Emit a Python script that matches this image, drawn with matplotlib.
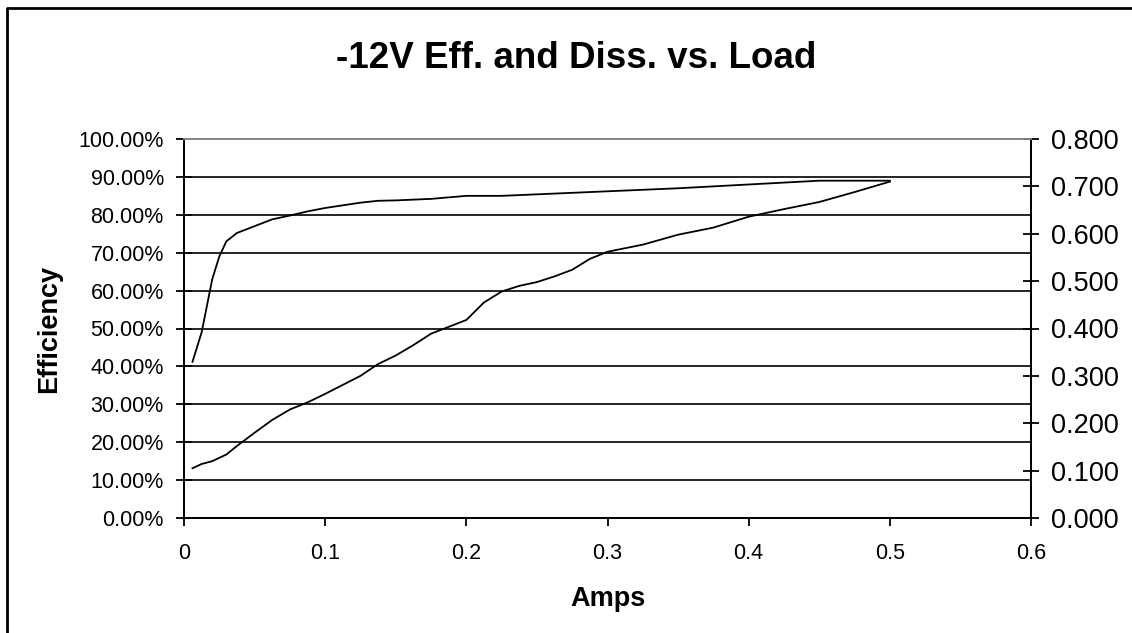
import matplotlib.pyplot as plt
from matplotlib.lines import Line2D
from matplotlib.ticker import FuncFormatter, MultipleLocator

plt.rcParams['font.family'] = ['Liberation Sans', 'DejaVu Sans']

# Load current (A)
amps = [0.006, 0.0125, 0.02, 0.025, 0.03, 0.0375, 0.05, 0.0625, 0.075, 0.0875,
        0.1, 0.1125, 0.125, 0.1375, 0.15, 0.1625, 0.175, 0.2, 0.2125, 0.225,
        0.2375, 0.25, 0.2625, 0.275, 0.2875, 0.3, 0.325, 0.35, 0.375, 0.4,
        0.425, 0.45, 0.475, 0.5]
# Efficiency (%)
efficiency = [41.2, 49.0, 63.0, 69.0, 73.0, 75.2, 77.0, 78.8, 79.8, 80.9,
              81.8, 82.5, 83.2, 83.7, 83.8, 84.0, 84.2, 85.0, 85.0, 85.0,
              85.2, 85.4, 85.6, 85.8, 86.0, 86.2, 86.6, 87.0, 87.5, 88.0,
              88.5, 89.0, 89.0, 89.0]
# Dissipation (W)
dissipation = [0.105, 0.114, 0.120, 0.127, 0.134, 0.152, 0.180, 0.207, 0.229, 0.244,
               0.262, 0.281, 0.300, 0.325, 0.343, 0.365, 0.389, 0.418, 0.455, 0.478,
               0.490, 0.498, 0.510, 0.524, 0.547, 0.562, 0.577, 0.598, 0.613, 0.636,
               0.652, 0.667, 0.688, 0.710]

fig = plt.figure(figsize=(11.32, 6.33), dpi=100)
ax = fig.add_axes([184 / 1132, 1 - 518 / 633, (1031 - 184) / 1132, (518 - 139) / 633])
ax2 = ax.twinx()

ax.plot(amps, efficiency, color='black', lw=1.3)
ax2.plot(amps, dissipation, color='black', lw=1.3)

ax.set_xlim(0, 0.6)
ax.set_ylim(0, 100)
ax2.set_ylim(0, 0.8)
ax.xaxis.set_major_locator(MultipleLocator(0.1))
ax.yaxis.set_major_locator(MultipleLocator(10))
ax2.yaxis.set_major_locator(MultipleLocator(0.1))
ax.xaxis.set_major_formatter(FuncFormatter(lambda v, p: f'{v:g}'))
ax.yaxis.set_major_formatter(FuncFormatter(lambda v, p: f'{v:.2f}%'))
ax2.yaxis.set_major_formatter(FuncFormatter(lambda v, p: f'{v:.3f}'))

ax.grid(axis='y', color='black', lw=1.2)
ax.set_axisbelow(True)

for a in (ax, ax2):
    for s in a.spines.values():
        s.set_linewidth(1.3)
    a.spines['top'].set_color('#888888')
ax.tick_params(axis='y', direction='inout', length=11, width=1.3, labelsize=15.5, pad=9)
ax.tick_params(axis='x', direction='out', length=6, width=1.3, labelsize=15.5, pad=12)
ax2.tick_params(axis='y', direction='inout', length=11, width=1.3, labelsize=19.5, pad=9)

ax.set_xlabel('Amps', fontsize=19.5, fontweight='bold', labelpad=16)
ax.set_ylabel('Efficiency', fontsize=19.5, fontweight='bold', labelpad=12)
fig.text(0.509, 1 - 58 / 633, '-12V Eff. and Diss. vs. Load', ha='center', va='center',
         fontsize=26.5, fontweight='bold')

# chart border (top and left edges only)
fig.add_artist(Line2D([7 / 1132, 7 / 1132, 1], [0, 1 - 8 / 633, 1 - 8 / 633],
                      transform=fig.transFigure, color='black', lw=2))

fig.savefig('out.png', dpi=100)
